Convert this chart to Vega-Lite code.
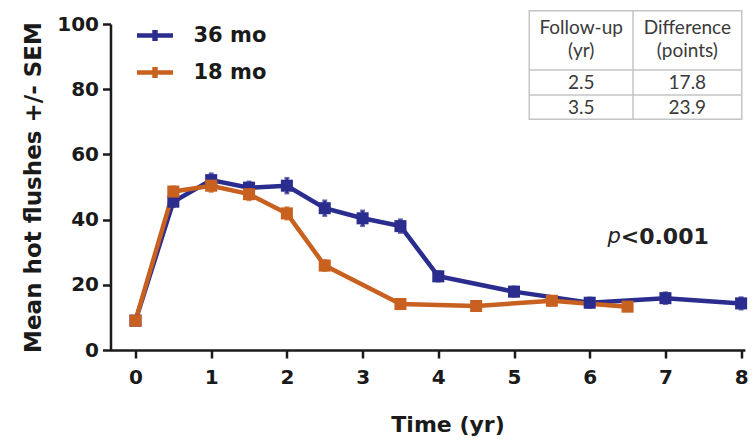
{
  "$schema": "https://vega.github.io/schema/vega-lite/v6.json",
  "width": 634.4,
  "height": 326,
  "autosize": {"type": "none"},
  "padding": {"left": 110.5, "top": 24, "right": 11.1, "bottom": 92},
  "background": "white",
  "data": {"values": [{}]},
  "config": {
    "view": {"stroke": null},
    "font": "DejaVu Sans",
    "tick": {"bandSize": 12, "thickness": 2.5}
  },
  "datasets": {
    "series": [
      {"time": 0, "group": "36 mo", "mean": 9, "sem": 1},
      {"time": 0.5, "group": "36 mo", "mean": 45.5, "sem": 1.5},
      {"time": 1, "group": "36 mo", "mean": 52.1, "sem": 2},
      {"time": 1.5, "group": "36 mo", "mean": 49.8, "sem": 1.8},
      {"time": 2, "group": "36 mo", "mean": 50.4, "sem": 2.3},
      {"time": 2.5, "group": "36 mo", "mean": 43.5, "sem": 2.3},
      {"time": 3, "group": "36 mo", "mean": 40.4, "sem": 2.3},
      {"time": 3.5, "group": "36 mo", "mean": 38, "sem": 2},
      {"time": 4, "group": "36 mo", "mean": 22.6, "sem": 1.5},
      {"time": 5, "group": "36 mo", "mean": 17.9, "sem": 1.5},
      {"time": 6, "group": "36 mo", "mean": 14.5, "sem": 1.5},
      {"time": 7, "group": "36 mo", "mean": 15.9, "sem": 1.7},
      {"time": 8, "group": "36 mo", "mean": 14.3, "sem": 1.8},
      {"time": 0, "group": "18 mo", "mean": 9, "sem": 1},
      {"time": 0.5, "group": "18 mo", "mean": 48.6, "sem": 1.5},
      {"time": 1, "group": "18 mo", "mean": 50.4, "sem": 1.8},
      {"time": 1.5, "group": "18 mo", "mean": 47.8, "sem": 1.8},
      {"time": 2, "group": "18 mo", "mean": 41.9, "sem": 1.8},
      {"time": 2.5, "group": "18 mo", "mean": 25.9, "sem": 1.6},
      {"time": 3.5, "group": "18 mo", "mean": 14.1, "sem": 1.2},
      {"time": 4.5, "group": "18 mo", "mean": 13.5, "sem": 1.2},
      {"time": 5.5, "group": "18 mo", "mean": 15.1, "sem": 1.3},
      {"time": 6.5, "group": "18 mo", "mean": 13.3, "sem": 1.3}
    ]
  },
  "layer": [
    {
      "mark": {"type": "rect", "fill": "white", "stroke": "#c4c4c4", "strokeWidth": 1.5},
      "encoding": {
        "x": {"datum": 5.202, "type": "quantitative", "scale": {"domain": [-0.33, 8.05]}},
        "x2": {"datum": 8.008},
        "y": {"datum": 104.08, "type": "quantitative", "scale": {"domain": [0, 100]}},
        "y2": {"datum": 70.77}
      }
    },
    {
      "mark": {"type": "rule", "stroke": "#c4c4c4", "strokeWidth": 1.5},
      "encoding": {
        "x": {"datum": 5.202, "type": "quantitative"},
        "x2": {"datum": 8.008},
        "y": {"datum": 85.89, "type": "quantitative"}
      }
    },
    {
      "mark": {"type": "rule", "stroke": "#c4c4c4", "strokeWidth": 1.5},
      "encoding": {
        "x": {"datum": 5.202, "type": "quantitative"},
        "x2": {"datum": 8.008},
        "y": {"datum": 78.22, "type": "quantitative"}
      }
    },
    {
      "mark": {"type": "rule", "stroke": "#c4c4c4", "strokeWidth": 1.5},
      "encoding": {
        "x": {"datum": 6.572, "type": "quantitative"},
        "y": {"datum": 104.08, "type": "quantitative"},
        "y2": {"datum": 70.77}
      }
    },
    {
      "mark": {"type": "text", "font": "Lato", "fontSize": 19, "color": "#3a3a3a", "align": "center", "baseline": "middle"},
      "encoding": {"x": {"datum": 5.887, "type": "quantitative"}, "y": {"datum": 98.9, "type": "quantitative"}, "text": {"value": "Follow-up"}}
    },
    {
      "mark": {"type": "text", "font": "Lato", "fontSize": 19, "color": "#3a3a3a", "align": "center", "baseline": "middle"},
      "encoding": {"x": {"datum": 5.887, "type": "quantitative"}, "y": {"datum": 91.6, "type": "quantitative"}, "text": {"value": "(yr)"}}
    },
    {
      "mark": {"type": "text", "font": "Lato", "fontSize": 19, "color": "#3a3a3a", "align": "center", "baseline": "middle"},
      "encoding": {"x": {"datum": 7.29, "type": "quantitative"}, "y": {"datum": 98.9, "type": "quantitative"}, "text": {"value": "Difference"}}
    },
    {
      "mark": {"type": "text", "font": "Lato", "fontSize": 19, "color": "#3a3a3a", "align": "center", "baseline": "middle"},
      "encoding": {"x": {"datum": 7.29, "type": "quantitative"}, "y": {"datum": 91.6, "type": "quantitative"}, "text": {"value": "(points)"}}
    },
    {
      "mark": {"type": "text", "font": "Lato", "fontSize": 19, "color": "#3a3a3a", "align": "center", "baseline": "middle"},
      "encoding": {"x": {"datum": 5.887, "type": "quantitative"}, "y": {"datum": 81.9, "type": "quantitative"}, "text": {"value": "2.5"}}
    },
    {
      "mark": {"type": "text", "font": "Lato", "fontSize": 19, "color": "#3a3a3a", "align": "center", "baseline": "middle"},
      "encoding": {"x": {"datum": 7.29, "type": "quantitative"}, "y": {"datum": 81.9, "type": "quantitative"}, "text": {"value": "17.8"}}
    },
    {
      "mark": {"type": "text", "font": "Lato", "fontSize": 19, "color": "#3a3a3a", "align": "center", "baseline": "middle"},
      "encoding": {"x": {"datum": 5.887, "type": "quantitative"}, "y": {"datum": 74.3, "type": "quantitative"}, "text": {"value": "3.5"}}
    },
    {
      "mark": {"type": "text", "font": "Lato", "fontSize": 19, "color": "#3a3a3a", "align": "center", "baseline": "middle"},
      "encoding": {"x": {"datum": 7.29, "type": "quantitative"}, "y": {"datum": 74.3, "type": "quantitative"}, "text": {"value": "23.9"}}
    },
    {
      "mark": {"type": "text", "font": "DejaVu Sans", "fontSize": 21, "fontStyle": "italic", "color": "#222", "align": "right", "baseline": "middle"},
      "encoding": {"x": {"datum": 6.41, "type": "quantitative"}, "y": {"datum": 34.7, "type": "quantitative"}, "text": {"value": "p"}}
    },
    {
      "mark": {"type": "text", "font": "DejaVu Sans", "fontSize": 22, "fontWeight": "bold", "color": "#222", "align": "left", "baseline": "middle"},
      "encoding": {"x": {"datum": 6.41, "type": "quantitative"}, "y": {"datum": 34.7, "type": "quantitative"}, "text": {"value": "<0.001"}}
    },
    {
      "data": {"name": "series"},
      "layer": [
        {
          "mark": {"type": "line", "strokeWidth": 4.5},
          "encoding": {
            "x": {"field": "time", "type": "quantitative", "title": "Time (yr)"},
            "y": {"field": "mean", "type": "quantitative", "title": "Mean hot flushes +/- SEM"},
            "color": {"field": "group", "type": "nominal"},
            "order": {"field": "time"}
          }
        },
        {
          "mark": {"type": "errorbar", "ticks": true, "thickness": 2.5},
          "encoding": {
            "x": {"field": "time", "type": "quantitative", "title": "Time (yr)"},
            "y": {"field": "mean", "type": "quantitative", "title": "Mean hot flushes +/- SEM"},
            "yError": {"field": "sem"},
            "color": {"field": "group", "type": "nominal"}
          }
        },
        {
          "mark": {"type": "point", "shape": "square", "filled": true, "size": 145, "opacity": 1},
          "encoding": {
            "x": {
              "field": "time", "type": "quantitative", "title": "Time (yr)",
              "scale": {"domain": [-0.33, 8.05], "nice": false, "zero": false},
              "axis": {
                "values": [0, 1, 2, 3, 4, 5, 6, 7, 8],
                "format": "d",
                "grid": false,
                "domainColor": "#1a1a1a", "domainWidth": 2.5,
                "tickColor": "#1a1a1a", "tickWidth": 2.5, "tickSize": 8,
                "labelFont": "DejaVu Sans", "labelFontSize": 20, "labelFontWeight": "bold", "labelColor": "#1a1a1a",
                "labelPadding": 9,
                "titleFont": "DejaVu Sans", "titleFontSize": 22, "titleFontWeight": "bold", "titleColor": "#1a1a1a",
                "titleX": 337,
                "titlePadding": 27
              }
            },
            "y": {
              "field": "mean", "type": "quantitative", "title": "Mean hot flushes +/- SEM",
              "scale": {"domain": [0, 100], "nice": false},
              "axis": {
                "values": [0, 20, 40, 60, 80, 100],
                "grid": false,
                "domainColor": "#1a1a1a", "domainWidth": 2.5,
                "tickColor": "#1a1a1a", "tickWidth": 2.5, "tickSize": 8,
                "labelFont": "DejaVu Sans", "labelFontSize": 20, "labelFontWeight": "bold", "labelColor": "#1a1a1a",
                "labelPadding": 4,
                "titleFont": "DejaVu Sans", "titleFontSize": 23, "titleFontWeight": "bold", "titleColor": "#1a1a1a",
                "titlePadding": 11
              }
            },
            "color": {
              "field": "group", "type": "nominal",
              "scale": {"domain": ["36 mo", "18 mo"], "range": ["#2b2d8e", "#c8601f"]},
              "legend": {
                "orient": "none", "legendX": 26, "legendY": -7,
                "title": null,
                "symbolType": "M-1,-0.12L1,-0.12L1,0.12L-1,0.12Z M-0.15,-0.3L0.15,-0.3L0.15,0.3L-0.15,0.3Z",
                "symbolSize": 1300,
                "symbolStrokeWidth": 0,
                "symbolOpacity": 1,
                "labelFont": "DejaVu Sans", "labelFontSize": 21, "labelFontWeight": "bold", "labelColor": "#1a1a1a",
                "labelOffset": 20,
                "rowPadding": 8,
                "encode": {"symbols": {"update": {"opacity": {"value": 1}, "fillOpacity": {"value": 1}}}}
              }
            }
          }
        }
      ]
    }
  ]
}
